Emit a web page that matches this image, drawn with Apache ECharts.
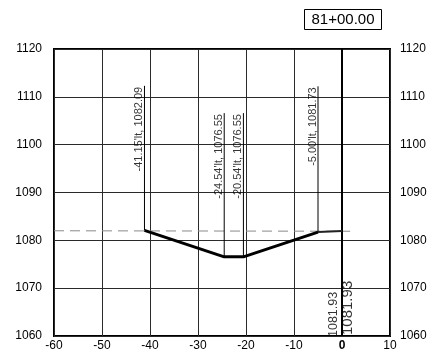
<!DOCTYPE html>
<html><head><meta charset="utf-8">
<script src="https://cdn.jsdelivr.net/npm/echarts@6/dist/echarts.min.js"></script>
<style>html,body{margin:0;padding:0;background:#fff}#c{width:435px;height:359px}</style>
</head><body><div id="c"></div>
<script>
const station = "81+00.00";
const xTicks = [-60, 10, 10];           // min, max, interval
const yTicks = [1060, 1120, 10];
const groundX = [-60, 1.7];
const groundY = [1082.0, 1081.9];
const designX = [-41.15, -24.54, -20.54, -5.00];
const designY = [1082.09, 1076.55, 1076.55, 1081.73];
const tieX = [-5.00, 0];
const tieY = [1081.73, 1081.93];
const calloutX = [-41.15, -24.54, -20.54, -5.00];
const calloutY = [1082.09, 1076.55, 1076.55, 1081.73];
const calloutTop = [1112.3, 1106.6, 1106.6, 1112.2];
const calloutText = ["-41.15'lt, 1082.09", "-24.54'lt, 1076.55", "-20.54'lt, 1076.55", "-5.00'lt, 1081.73"];
const centerElev = "1081.93";

const FONT = 'Liberation Sans, Arial, sans-serif';
const series = [];
series.push({type:'line', data: groundX.map((x,i)=>[x, groundY[i]]), symbol:'none',
  lineStyle:{color:'#8a8a8a', width:1, type:[10,6]}, z:3});
series.push({type:'line', data: designX.map((x,i)=>[x, designY[i]]), symbol:'none',
  lineStyle:{color:'#000', width:3}, z:5});
series.push({type:'line', data: tieX.map((x,i)=>[x, tieY[i]]), symbol:'none',
  lineStyle:{color:'#222', width:2}, z:5});
series.push({type:'line', data: [[0, yTicks[0]], [0, yTicks[1]]], symbol:'none',
  lineStyle:{color:'#000', width:2}, z:4});
calloutX.forEach((x,i)=>{
  series.push({type:'line', data: [[x, calloutY[i]], [x, calloutTop[i]]], symbol:'none',
    lineStyle:{color:'#000', width:1}, z:4});
});
series.push({type:'scatter', symbolSize:0, z:6,
  data: calloutX.map((x,i)=>({value:[x, calloutTop[i]], label:{formatter: calloutText[i]}})),
  label:{show:true, position:[0,0], rotate:90, align:'right', verticalAlign:'bottom',
    offset:[-1,0], fontSize:11, fontFamily:FONT, color:'#000'}});
series.push({type:'scatter', symbolSize:0, z:6,
  data:[
    {value:[0, yTicks[0]], label:{formatter:centerElev, fontSize:12.5, align:'left', verticalAlign:'bottom', offset:[-1,-2]}},
    {value:[0, yTicks[0]], label:{formatter:centerElev, fontSize:15, align:'left', verticalAlign:'top', offset:[1,-2]}}
  ],
  label:{show:true, position:[0,0], rotate:90, fontFamily:FONT, color:'#000'}});

const yAxisBase = {type:'value', min:yTicks[0], max:yTicks[1], interval:yTicks[2],
  axisLine:{show:false}, axisTick:{show:false},
  axisLabel:{color:'#000', fontSize:12, fontFamily:FONT, formatter: v => String(v)}};

const chart = echarts.init(document.getElementById('c'), null, {renderer:'canvas'});
chart.setOption({
  animation:false,
  backgroundColor:'#fff',
  grid:{left:54, right:45, top:49, bottom:23, show:true, borderColor:'#000', borderWidth:2, backgroundColor:'transparent'},
  xAxis:{type:'value', min:xTicks[0], max:xTicks[1], interval:xTicks[2],
    axisLine:{show:false}, axisTick:{show:false},
    splitLine:{show:true, lineStyle:{color:'#2a2a2a', width:1}},
    axisLabel:{color:'#000', fontSize:12, fontFamily:FONT, margin:4,
      formatter: v => v === 0 ? '{b|0}' : String(v),
      rich:{b:{fontWeight:'bold', fontSize:12, fontFamily:FONT, color:'#000'}}}},
  yAxis:[
    Object.assign({}, yAxisBase, {position:'left', splitLine:{show:true, lineStyle:{color:'#2a2a2a', width:1}},
      axisLabel:Object.assign({}, yAxisBase.axisLabel, {margin:12})}),
    Object.assign({}, yAxisBase, {position:'right', splitLine:{show:false},
      axisLabel:Object.assign({}, yAxisBase.axisLabel, {margin:10})})
  ],
  graphic:[{type:'group', left:304, top:9, children:[
    {type:'rect', shape:{x:0, y:0, width:77, height:20}, style:{fill:'#fff', stroke:'#000', lineWidth:1}},
    {type:'text', x:38.5, y:10, style:{text:station, fontSize:15, fontFamily:FONT, fill:'#000', align:'center', verticalAlign:'middle'}}
  ]}],
  series: series
});
</script></body></html>
